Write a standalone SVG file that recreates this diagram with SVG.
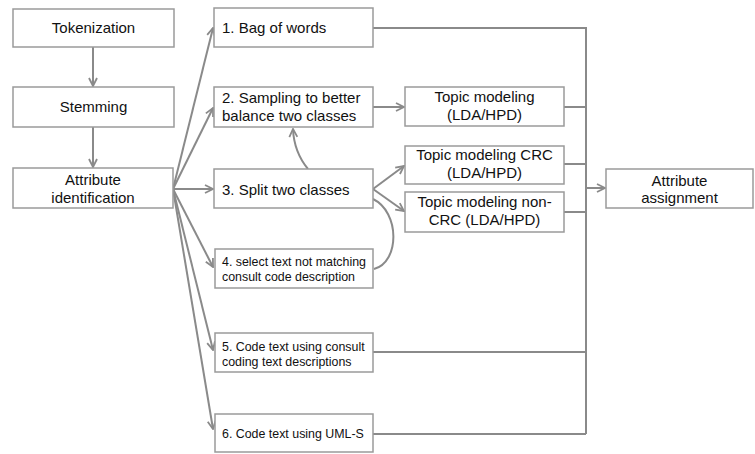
<svg xmlns="http://www.w3.org/2000/svg" width="755" height="454" viewBox="0 0 755 454">
<style>
.box{fill:#fff;stroke:#9a9a9a;stroke-width:1.5}
.t{font-family:"Liberation Sans",Arial,sans-serif;font-size:15px;fill:#111}
.s{font-family:"Liberation Sans",Arial,sans-serif;font-size:12.4px;fill:#111}
.c{text-anchor:middle}
.ln{fill:none;stroke:#8a8a8a;stroke-width:2}
.ar{fill:none;stroke:#8a8a8a;stroke-width:2;marker-end:url(#ah)}
</style>
<defs>
<marker id="ah" viewBox="0 0 10 10" refX="9" refY="5" markerWidth="5" markerHeight="5" orient="auto" markerUnits="strokeWidth">
<path d="M1,1 L9,5 L1,9" fill="none" stroke="#8a8a8a" stroke-width="1.8"/>
</marker>
</defs>
<rect width="755" height="454" fill="#fff"/>
<g id="connectors">
<path class="ar" d="M93,47 L93,86"/>
<path class="ar" d="M93,127 L93,167"/>
<path class="ar" d="M173,189 L213,28"/>
<path class="ar" d="M173,189 L213,108"/>
<path class="ar" d="M173,189 L213,189"/>
<path class="ar" d="M173,189 L213,267"/>
<path class="ar" d="M173,189 L213,350"/>
<path class="ar" d="M173,189 L213,429"/>
<path class="ar" d="M373,107 L404,107"/>
<path class="ar" d="M373,189 L404,166"/>
<path class="ar" d="M373,189 L404,211"/>
<path class="ar" d="M308,169 Q294,152 293,129"/>
<path class="ln" d="M373,199 C400,212 400,262 374,269"/>
<path class="ln" d="M373,28 L586,28 L586,434"/>
<path class="ln" d="M564,107 L586,107"/>
<path class="ln" d="M564,164 L586,164"/>
<path class="ln" d="M564,212 L586,212"/>
<path class="ln" d="M373,352 L586,352"/>
<path class="ln" d="M373,434 L586,434"/>
<path class="ar" d="M586,188 L605,188"/>
</g>
<g id="tokenization"><rect class="box" x="13" y="9" width="161" height="38"/><text class="t c" x="93.5" y="33">Tokenization</text></g>
<g id="stemming"><rect class="box" x="13" y="87" width="161" height="40"/><text class="t c" x="93.5" y="112">Stemming</text></g>
<g id="attribute-identification"><rect class="box" x="13" y="168" width="160" height="40"/><text class="t c" x="93" y="185">Attribute</text><text class="t c" x="93" y="203">identification</text></g>
<g id="bag-of-words"><rect class="box" x="214" y="8" width="159" height="39"/><text class="t" x="222" y="33">1. Bag of words</text></g>
<g id="sampling"><rect class="box" x="214" y="87" width="159" height="40"/><text class="t" x="222" y="103">2. Sampling to better</text><text class="t" x="222" y="121">balance two classes</text></g>
<g id="split"><rect class="box" x="214" y="169" width="159" height="39"/><text class="t" x="222" y="195">3. Split two classes</text></g>
<g id="select-text"><rect class="box" x="215" y="249" width="158" height="39"/><text class="s" x="222" y="266">4. select text not matching</text><text class="s" x="222" y="281">consult code description</text></g>
<g id="code-consult"><rect class="box" x="215" y="333" width="158" height="39"/><text class="s" x="222" y="351">5. Code text using consult</text><text class="s" x="222" y="366">coding text descriptions</text></g>
<g id="code-uml"><rect class="box" x="215" y="414" width="158" height="38"/><text class="s" x="222" y="438">6. Code text using UML-S</text></g>
<g id="topic-modeling"><rect class="box" x="405" y="87" width="159" height="39"/><text class="t c" x="484.5" y="102">Topic modeling</text><text class="t c" x="484.5" y="120">(LDA/HPD)</text></g>
<g id="topic-crc"><rect class="box" x="405" y="146" width="159" height="38"/><text class="t c" x="484.5" y="160">Topic modeling CRC</text><text class="t c" x="484.5" y="178">(LDA/HPD)</text></g>
<g id="topic-noncrc"><rect class="box" x="405" y="192" width="159" height="40"/><text class="t c" x="484.5" y="207">Topic modeling non-</text><text class="t c" x="484.5" y="225">CRC (LDA/HPD)</text></g>
<g id="attribute-assignment"><rect class="box" x="606" y="169" width="147" height="39"/><text class="t c" x="679.5" y="186">Attribute</text><text class="t c" x="679.5" y="203">assignment</text></g>
</svg>
